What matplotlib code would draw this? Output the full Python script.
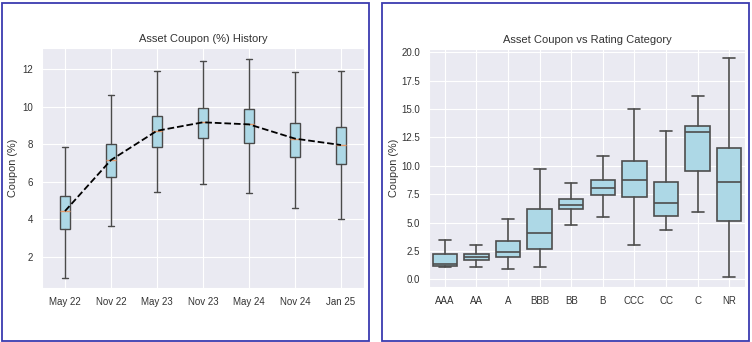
import matplotlib
matplotlib.use('Agg')
import matplotlib.pyplot as plt
import seaborn as sns
from matplotlib.patches import Rectangle

sns.set_style('darkgrid')
plt.rcParams['font.family'] = ['Liberation Sans', 'DejaVu Sans']

# coupon history by snapshot date
dates = ['May 22', 'Nov 22', 'May 23', 'Nov 23', 'May 24', 'Nov 24', 'Jan 25']
hist_low = [0.86, 3.63, 5.45, 5.87, 5.41, 4.57, 3.99]
hist_q1 = [3.49, 6.25, 7.86, 8.31, 8.04, 7.29, 6.96]
hist_med = [4.43, 7.15, 8.71, 9.16, 9.05, 8.29, 7.95]
hist_q3 = [5.23, 8.00, 9.50, 9.94, 9.87, 9.10, 8.91]
hist_high = [7.86, 10.61, 11.91, 12.41, 12.55, 11.86, 11.88]

# coupon by rating bucket
ratings = ['AAA', 'AA', 'A', 'BBB', 'BB', 'B', 'CCC', 'CC', 'C', 'NR']
rat_low = [1.12, 1.12, 0.88, 1.12, 4.78, 5.49, 3.00, 4.34, 5.96, 0.24]
rat_q1 = [1.21, 1.71, 1.92, 2.68, 6.17, 7.46, 7.23, 5.58, 9.53, 5.16]
rat_med = [1.33, 1.92, 2.36, 4.10, 6.58, 8.05, 8.79, 6.76, 13.00, 8.55]
rat_q3 = [2.21, 2.24, 3.33, 6.17, 7.08, 8.79, 10.38, 8.53, 13.51, 11.53]
rat_high = [3.42, 2.98, 5.31, 9.73, 8.47, 10.83, 15.00, 13.07, 16.14, 19.50]


def make_stats(labels, lo, q1, med, q3, hi):
    return [dict(label=l, whislo=a, q1=b, med=c, q3=d, whishi=e, fliers=[])
            for l, a, b, c, d, e in zip(labels, lo, q1, med, q3, hi)]


fig = plt.figure(figsize=(7.52, 3.42), dpi=100)
W, H = 752, 342

# panel frames
for x0, x1 in [(2, 369), (382, 749)]:
    fig.patches.append(Rectangle((x0 / W, 1 - 340.5 / H), (x1 - x0) / W, 337.5 / H,
                                 transform=fig.transFigure, fill=False,
                                 edgecolor='#3b3bb0', linewidth=1.3))

# left: history
ax1 = fig.add_axes([42 / W, 1 - 288 / H, (364 - 42) / W, (288 - 48) / H])
pos = list(range(len(dates)))
ax1.bxp(make_stats(dates, hist_low, hist_q1, hist_med, hist_q3, hist_high),
        positions=pos, widths=0.22, patch_artist=True, showfliers=False,
        boxprops=dict(facecolor='#add8e6', edgecolor='#4a4a4a', linewidth=1.0),
        whiskerprops=dict(color='#4a4a4a', linewidth=1.0),
        capprops=dict(color='#4a4a4a', linewidth=1.0),
        medianprops=dict(color='#e39a6c', linewidth=1.0))
ax1.plot(pos, hist_med, linestyle='--', color='black', linewidth=1.3, zorder=5)
ax1.set_xlim(-0.5, len(dates) - 0.5)
ax1.set_ylim(0.33, 13.12)
ax1.set_yticks([2, 4, 6, 8, 10, 12])
ax1.set_title('Asset Coupon (%) History', fontsize=8, color='#333333', pad=4)
ax1.set_ylabel('Coupon (%)', fontsize=7.8, color='#333333')
ax1.yaxis.set_label_coords(-0.075, 0.5)
ax1.tick_params(labelsize=7, colors='#333333', pad=3)

# right: by rating
ax2 = fig.add_axes([429 / W, 1 - 287 / H, (745 - 429) / W, (287 - 49) / H])
pos2 = list(range(len(ratings)))
ax2.bxp(make_stats(ratings, rat_low, rat_q1, rat_med, rat_q3, rat_high),
        positions=pos2, widths=0.77, patch_artist=True, showfliers=False,
        boxprops=dict(facecolor='#add8e6', edgecolor='#4d4d4d', linewidth=1.2),
        whiskerprops=dict(color='#4d4d4d', linewidth=1.2),
        capprops=dict(color='#4d4d4d', linewidth=1.2),
        medianprops=dict(color='#4d4d4d', linewidth=1.2))
ax2.set_xlim(-0.5, len(ratings) - 0.5)
ax2.set_ylim(-0.68, 20.29)
ax2.set_yticks([0, 2.5, 5, 7.5, 10, 12.5, 15, 17.5, 20])
ax2.set_yticklabels([f'{v:.1f}' for v in [0, 2.5, 5, 7.5, 10, 12.5, 15, 17.5, 20]])
ax2.set_title('Asset Coupon vs Rating Category', fontsize=8, color='#333333', pad=4)
ax2.set_ylabel('Coupon (%)', fontsize=7.8, color='#333333')
ax2.yaxis.set_label_coords(-0.095, 0.5)
ax2.tick_params(labelsize=7, colors='#333333', pad=3)

fig.savefig('out.png', dpi=100)
